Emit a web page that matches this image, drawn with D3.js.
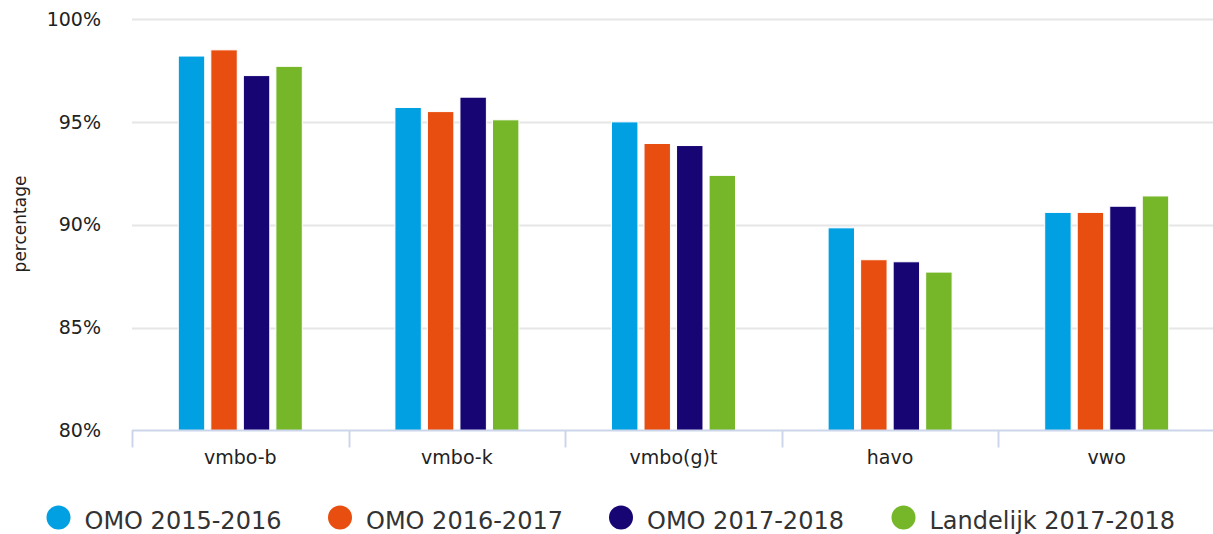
<!DOCTYPE html>
<html>
<head>
<meta charset="utf-8">
<script src="https://cdn.jsdelivr.net/npm/d3@7"></script>
<style>
  html, body { margin: 0; padding: 0; background: #fff; }
  svg { display: block; font-family: "DejaVu Sans", Verdana, sans-serif; }
</style>
</head>
<body>
<svg id="chart" width="1213" height="534"></svg>
<script>
const categories = ["vmbo-b", "vmbo-k", "vmbo(g)t", "havo", "vwo"];
const seriesNames = ["OMO 2015-2016", "OMO 2016-2017", "OMO 2017-2018", "Landelijk 2017-2018"];
const seriesColors = ["#00a0e3", "#e84e0f", "#170574", "#76b72a"];
const omo2015 = [98.2, 95.7, 95.0, 89.85, 90.6];
const omo2016 = [98.5, 95.5, 93.95, 88.3, 90.6];
const omo2017 = [97.25, 96.2, 93.85, 88.2, 90.9];
const landelijk2017 = [97.7, 95.1, 92.4, 87.7, 91.4];
const yTicks = [80, 85, 90, 95, 100];
const yLabel = "percentage";

const seriesValues = [omo2015, omo2016, omo2017, landelijk2017];

const svg = d3.select("#chart");
const plotLeft = 132, plotRight = 1215, plotTop = 19, plotBottom = 430.5;

const x0 = d3.scaleBand().domain(categories).range([plotLeft, plotRight]).padding(0);
const x1 = d3.scaleBand().domain(seriesNames).range([0, 124]).paddingInner(6 / 32).paddingOuter(0);
const y = d3.scaleLinear().domain([80, 100]).range([plotBottom, plotTop]);

// grid
svg.append("g").selectAll("line").data(yTicks.filter(t => t !== 80)).join("line")
  .attr("x1", plotLeft).attr("x2", plotRight)
  .attr("y1", d => Math.round(y(d)) + 0.5).attr("y2", d => Math.round(y(d)) + 0.5)
  .attr("stroke", "#e6e6e6").attr("stroke-width", 2);

// y labels
svg.append("g").selectAll("text").data(yTicks).join("text")
  .attr("x", 101).attr("y", d => y(d))
  .attr("dy", "0.35em")
  .attr("text-anchor", "end")
  .attr("font-size", 19).attr("fill", "#222")
  .text(d => d + "%");

// y axis title
svg.append("text")
  .attr("transform", `translate(26,224) rotate(-90)`)
  .attr("text-anchor", "middle")
  .attr("font-size", 17).attr("fill", "#222")
  .text(yLabel);

// bars
const groups = svg.append("g").selectAll("g").data(categories).join("g")
  .attr("transform", c => `translate(${x0(c) + x0.bandwidth() / 2 - 62},0)`);
groups.selectAll("rect").data((c, ci) => seriesNames.map((s, si) => ({ s, si, v: seriesValues[si][ci] }))).join("rect")
  .attr("x", d => x1(d.s))
  .attr("width", x1.bandwidth())
  .attr("y", d => y(d.v))
  .attr("height", d => y(80) - y(d.v))
  .attr("fill", d => seriesColors[d.si])
  .attr("stroke", "#fff").attr("stroke-width", 1);

// x axis
const gx = svg.append("g").attr("transform", `translate(0,${plotBottom})`);
gx.append("line").attr("x1", plotLeft).attr("x2", plotRight).attr("y1", 0).attr("y2", 0)
  .attr("stroke", "#ccd6eb").attr("stroke-width", 2);
const boundaries = categories.map(c => x0(c)).concat([plotRight - 1]);
gx.selectAll("line.tick").data(boundaries).join("line").attr("class", "tick")
  .attr("x1", d => Math.round(d) + 0.5).attr("x2", d => Math.round(d) + 0.5)
  .attr("y1", 0).attr("y2", 17)
  .attr("stroke", "#ccd6eb").attr("stroke-width", 2);
gx.selectAll("text.cat").data(categories).join("text").attr("class", "cat")
  .attr("x", c => x0(c) + x0.bandwidth() / 2)
  .attr("y", 33)
  .attr("text-anchor", "middle")
  .attr("font-size", 19).attr("fill", "#222")
  .text(c => c);

// legend
const legendX = [58.5, 340, 621, 903.5];
const lg = svg.append("g").selectAll("g").data(seriesNames).join("g")
  .attr("transform", (d, i) => `translate(${legendX[i]},517.5)`);
lg.append("circle").attr("r", 12).attr("fill", (d, i) => seriesColors[i]);
lg.append("text").attr("x", 26).attr("y", 11.5)
  .attr("font-size", 24).attr("fill", "#333")
  .text(d => d);
</script>
</body>
</html>
